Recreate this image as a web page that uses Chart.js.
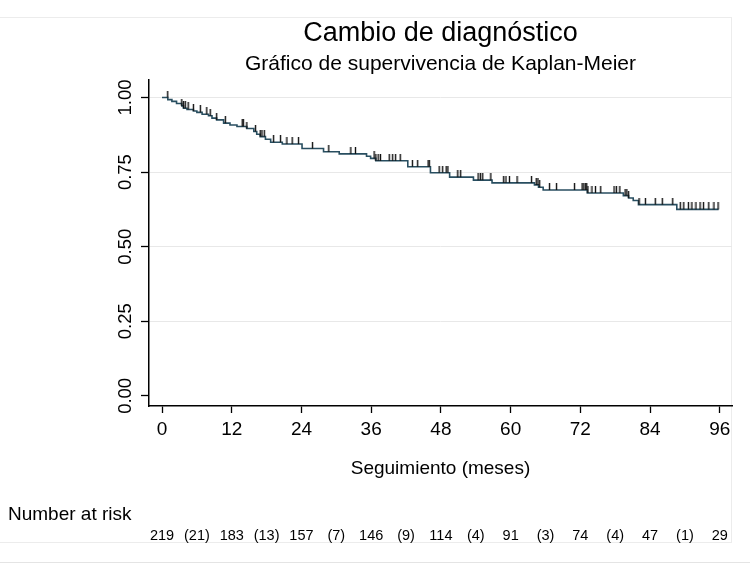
<!DOCTYPE html>
<html><head><meta charset="utf-8">
<script src="https://cdn.jsdelivr.net/npm/chart.js@4"></script>
<style>
html,body{margin:0;padding:0;background:#fff;}
#wrap{position:relative;width:750px;height:569px;overflow:hidden;}
#frame{position:absolute;left:-2px;top:17px;width:734px;height:526px;border:1px solid #ececec;box-sizing:border-box;}
#line2{position:absolute;left:0;top:562px;width:750px;height:0;border-top:1px solid #e4e4e4;}
canvas{position:absolute;left:0;top:0;}
</style></head>
<body><div id="wrap"><div id="frame"></div><div id="line2"></div><canvas id="c" width="750" height="569"></canvas></div>
<script>
// ---- data ----
const titleText = 'Cambio de diagnóstico';
const subtitleText = 'Gráfico de supervivencia de Kaplan-Meier';
const xTitle = 'Seguimiento (meses)';
const riskTitle = 'Number at risk';
const xTicks = [0, 12, 24, 36, 48, 60, 72, 84, 96];
const yTicks = [0, 0.25, 0.5, 0.75, 1];
const xMin = -2.24, xMax = 98.1;
const yMin = -0.034, yMax = 1.06;

const eventTimes = [0, 1.0, 1.7, 2.5, 3.4, 3.7, 4.3, 5.4, 6.0, 6.9, 8.0, 8.6, 9.4, 10.6, 11.7, 12.9, 14.6, 15.8, 16.3, 16.9,
  17.8, 18.7, 20.7, 24.1, 27.8, 30.5, 35.2, 35.9, 36.8, 42.3, 46.2, 49.5, 53.6, 56.8, 64.1, 64.8, 65.6, 73.2, 79.4, 80.3,
  81.1, 82.0, 88.6];
const survival = [1.000, 0.993, 0.987, 0.980, 0.972, 0.964, 0.960, 0.955, 0.950, 0.944, 0.939, 0.931, 0.925, 0.914, 0.908, 0.903, 0.896, 0.886, 0.877, 0.869,
  0.860, 0.850, 0.844, 0.829, 0.818, 0.811, 0.803, 0.796, 0.788, 0.768, 0.748, 0.733, 0.723, 0.714, 0.707, 0.699, 0.690, 0.680, 0.671, 0.663,
  0.655, 0.641, 0.625];
const lastFollowUp = 95.8;
const censorTimes = [0.98, 3.4, 3.7, 4.0, 4.5, 5.4, 6.6, 7.7, 8.3, 9.4, 10.9, 13.8, 14.0, 14.6, 16.1, 16.9, 17.2, 17.6, 19.2, 20.4,
  21.5, 22.4, 23.5, 25.9, 28.7, 32.5, 33.3, 36.5, 36.8, 37.2, 37.6, 39.1, 39.7, 40.2, 41.0, 43.1, 44.0, 45.8, 46.0, 47.7,
  48.3, 48.9, 49.2, 50.9, 51.4, 54.4, 54.8, 55.2, 56.6, 58.8, 59.2, 59.8, 61.1, 63.6, 64.4, 64.7, 65.0, 66.7, 67.9, 71.0,
  72.3, 72.6, 72.9, 73.1, 73.3, 74.0, 74.6, 75.5, 77.8, 78.2, 78.8, 79.7, 80.0, 80.3, 82.1, 83.2, 84.9, 86.1, 87.9, 89.2,
  89.8, 90.6, 91.2, 91.9, 92.6, 93.2, 94.1, 95.0, 95.7];
const riskTimes = [0, 6, 12, 18, 24, 30, 36, 42, 48, 54, 60, 66, 72, 78, 84, 90, 96];
const atRisk = [219, 183, 157, 146, 114, 91, 74, 47, 29];
const lostBetween = [21, 13, 7, 9, 4, 3, 4, 1];

// ---- build ----
const FONT = '"Liberation Sans", Arial, Helvetica, sans-serif';
Chart.defaults.font.family = FONT;
Chart.defaults.color = '#000';

function survAt(t) {
  let s = survival[0];
  for (let i = 0; i < eventTimes.length; i++) { if (eventTimes[i] <= t) s = survival[i]; }
  return s;
}
const kmPoints = eventTimes.map((t, i) => ({x: t, y: survival[i]}));
kmPoints.push({x: lastFollowUp, y: survival[survival.length - 1]});
const censorPoints = censorTimes.map(t => ({x: t, y: survAt(t)}));
function riskLabel(v) {
  const i = riskTimes.indexOf(v);
  if (i < 0) return '';
  return i % 2 === 0 ? String(atRisk[i / 2]) : '(' + lostBetween[(i - 1) / 2] + ')';
}
function censorMark(h) {
  const c = document.createElement('canvas');
  c.width = 3; c.height = 2 * h;
  const g = c.getContext('2d');
  g.fillStyle = '#111';
  g.fillRect(0.8, 0, 1.4, h);
  return c;
}
const riskTitlePlugin = {
  id: 'riskTitle',
  afterDraw(chart) {
    const s = chart.scales.risk, c = chart.ctx;
    c.save();
    c.font = '19px ' + FONT;
    c.fillStyle = '#000';
    c.textAlign = 'left';
    c.textBaseline = 'middle';
    c.fillText(riskTitle, 8, s.top - 11);
    c.restore();
  }
};

new Chart(document.getElementById('c'), {
  type: 'line',
  data: {
    datasets: [
      {type: 'line', data: kmPoints, stepped: 'before', borderColor: '#284e60', borderWidth: 1.6,
       pointRadius: 0, fill: false, order: 2},
      {type: 'scatter', data: censorPoints, pointStyle: censorMark(7), pointRadius: 3, showLine: false, order: 1}
    ]
  },
  options: {
    responsive: false, animation: false, events: [],
    layout: {padding: {left: 0, right: 18, top: 0, bottom: 22}},
    plugins: {
      legend: {display: false}, tooltip: {enabled: false},
      title: {display: true, text: titleText, fullSize: false, color: '#000',
              font: {size: 27, weight: 'normal'}, padding: {top: 17, bottom: 0}},
      subtitle: {display: true, text: subtitleText, fullSize: false, color: '#000',
                 font: {size: 21, weight: 'normal'}, padding: {top: 2, bottom: 3}}
    },
    scales: {
      x: {
        type: 'linear', min: xMin, max: xMax, position: 'bottom', weight: 0,
        afterBuildTicks: s => { s.ticks = xTicks.map(v => ({value: v})); },
        ticks: {font: {size: 19}, color: '#000', padding: 5, maxRotation: 0, autoSkip: false, callback: v => String(v)},
        grid: {drawOnChartArea: false, drawTicks: true, tickLength: 7, tickColor: '#000', tickWidth: 1.3},
        border: {display: true, color: '#000', width: 1.5},
        title: {display: true, text: xTitle, color: '#000', font: {size: 19}, padding: {top: 12, bottom: 45}}
      },
      risk: {
        type: 'linear', min: xMin, max: xMax, position: 'bottom', weight: 1,
        afterBuildTicks: s => { s.ticks = riskTimes.map(v => ({value: v})); },
        ticks: {font: {size: 14.5}, color: '#000', padding: 2, maxRotation: 0, minRotation: 0, autoSkip: false,
                callback: v => riskLabel(v)},
        grid: {display: false, drawTicks: false},
        border: {display: false}
      },
      y: {
        type: 'linear', min: yMin, max: yMax, position: 'left',
        afterBuildTicks: s => { s.ticks = yTicks.map(v => ({value: v})); },
        afterFit: s => { s.width = 149; },
        ticks: {minRotation: 90, maxRotation: 90, crossAlign: 'center', padding: -3, font: {size: 18.5}, color: '#000',
                callback: v => Number(v).toFixed(2)},
        grid: {color: c => (c.tick && c.tick.value === 0) ? 'rgba(0,0,0,0)' : '#e8e8e8', lineWidth: 1,
               drawTicks: true, tickLength: 8, tickColor: '#000', tickWidth: 1.3},
        border: {display: true, color: '#000', width: 1.5}
      }
    }
  },
  plugins: [riskTitlePlugin]
});
</script>
</body></html>
